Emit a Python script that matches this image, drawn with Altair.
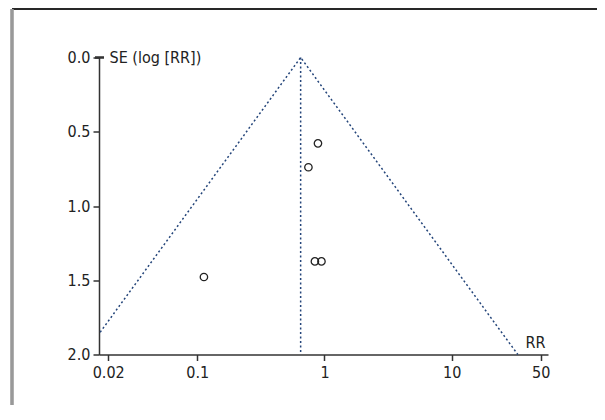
import altair as alt
import pandas as pd

# Study points (RR, SE of log RR)
rr = [0.889, 0.748, 0.841, 0.947, 0.113]
se = [0.578, 0.739, 1.373, 1.373, 1.478]

# Funnel outline (RR, SE, order) and pooled estimate
funnel_rr = [0.0173, 0.65, 33.0]
funnel_se = [1.85, 0.0, 2.0]
funnel_order = [0, 1, 2]
pooled_rr = 0.65

x_ticks = [0.02, 0.1, 1, 10, 50]
y_ticks = [0.0, 0.5, 1.0, 1.5, 2.0]

FONT = "DejaVu Sans Condensed, Roboto Condensed, Liberation Sans Narrow, Roboto, sans-serif"
FS = 16
LINE = "#24457a"
AX = "#333333"

pts = pd.DataFrame({"rr": rr, "se": se})
fun = pd.DataFrame({"rr": funnel_rr, "se": funnel_se, "o": funnel_order})
pool = pd.DataFrame({"rr": [pooled_rr, pooled_rr], "se": [0.0, 2.0]})

W, H = 449, 297

xscale = alt.Scale(type="log", domain=[0.01694, 57], nice=False)
yscale = alt.Scale(domain=[0, 2], reverse=True, nice=False)

xaxis = alt.Axis(values=x_ticks, labelExpr="format(datum.value, '~g')",
                 title="RR", titleAnchor="end", titleAlign="right",
                 titleX=W - 3, titleY=-4, titleBaseline="bottom",
                 titleFontWeight="normal", titleFontSize=FS, titleFont=FONT,
                 titleColor="#222", grid=False, domainColor=AX, domainWidth=1.5,
                 tickColor=AX, tickWidth=1.5, tickSize=6, labelPadding=4,
                 labelFont=FONT, labelFontSize=FS, labelColor="#222")
yaxis = alt.Axis(values=y_ticks, format=".1f", title="SE (log [RR])",
                 titleAngle=0, titleAlign="left", titleBaseline="middle",
                 titleX=10, titleY=0, titleFontWeight="normal", titleFontSize=FS,
                 titleFont=FONT, titleColor="#222", grid=False, domainColor=AX,
                 domainWidth=1.5, tickColor=AX, tickWidth=1.5, tickSize=6,
                 labelPadding=3, labelFont=FONT, labelFontSize=FS, labelColor="#222")

funnel = alt.Chart(fun).mark_line(color=LINE, strokeDash=[2, 2.5], strokeWidth=1.5).encode(
    x=alt.X("rr:Q", scale=xscale, axis=xaxis),
    y=alt.Y("se:Q", scale=yscale, axis=yaxis),
    order="o:O",
)
vline = alt.Chart(pool).mark_line(color=LINE, strokeDash=[2, 2.5], strokeWidth=1.5).encode(
    x=alt.X("rr:Q", scale=xscale),
    y=alt.Y("se:Q", scale=yscale),
)
points = alt.Chart(pts).mark_point(shape="circle", filled=False, color="#222",
                                   strokeWidth=1.3, size=55, opacity=1).encode(
    x=alt.X("rr:Q", scale=xscale),
    y=alt.Y("se:Q", scale=yscale),
)

# short cross-bar at the top of the SE axis
cap = alt.Chart(pts).mark_rule(color=AX, strokeWidth=1.5, clip=False).encode(
    x=alt.value(-4), x2=alt.value(5), y=alt.value(0))

# decorative frame (top and left border of the figure panel)
top_border = alt.Chart(pts).mark_rule(color="#222", strokeWidth=1.2, clip=False).encode(
    x=alt.value(-87), x2=alt.value(520), y=alt.value(-48.5))
left_border = alt.Chart(pts).mark_rule(color="#999", strokeWidth=2.5, clip=False).encode(
    x=alt.value(-87), y=alt.value(-48.5), y2=alt.value(400))

chart = alt.layer(top_border, left_border, cap, funnel, vline, points).properties(
    width=W, height=H,
    background="white",
    autosize=alt.AutoSizeParams(type="none"),
    padding={"left": 91, "top": 49.5, "right": 49, "bottom": 50},
).configure_view(strokeOpacity=0, strokeWidth=0)

chart.save("out.html", embed_options={"renderer": "svg", "actions": False})
